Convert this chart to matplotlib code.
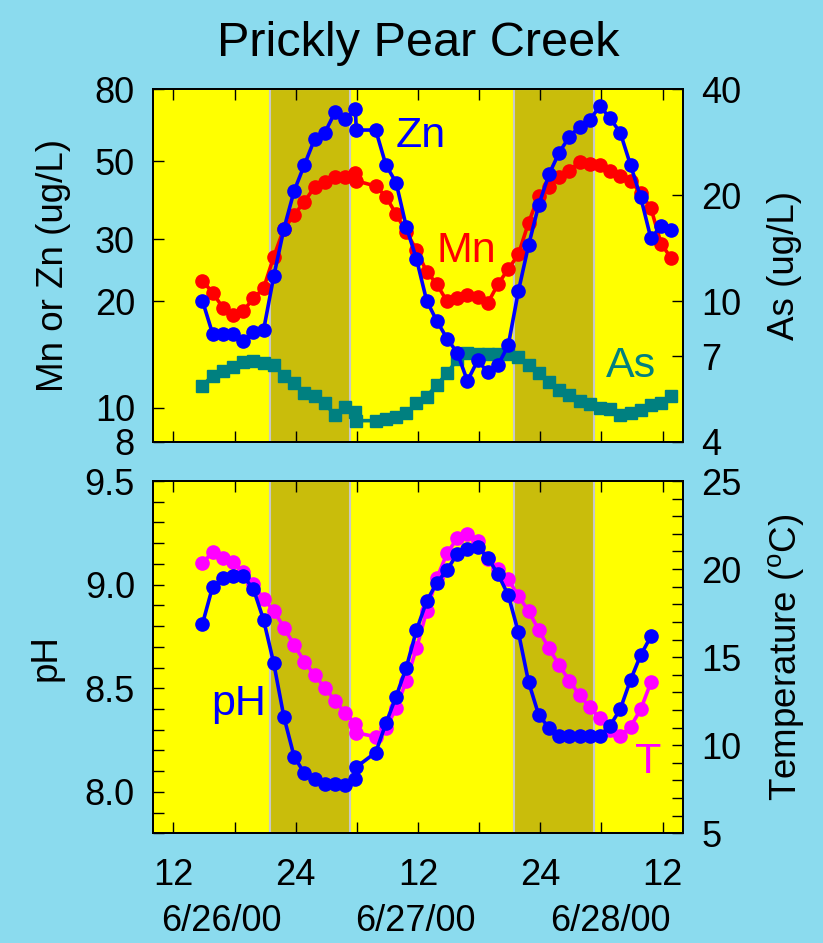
import matplotlib
matplotlib.use("Agg")
import matplotlib.pyplot as plt
from matplotlib.ticker import FixedLocator, MultipleLocator, NullLocator
import matplotlib.transforms as mtransforms

plt.rcParams["font.family"] = ["Liberation Sans", "DejaVu Sans"]
plt.rcParams["mathtext.fontset"] = "custom"
plt.rcParams["mathtext.rm"] = "Liberation Sans"

# hours since 6/26/00 00:00 (hourly samples, one doubled near 6 am on 6/27)
HOURS = [14.85, 15.85, 16.85, 17.85, 18.85, 19.85, 20.85, 21.85, 22.85, 23.85,
         24.85, 25.85, 26.85, 27.85, 28.85, 29.85, 29.95, 31.85, 32.85, 33.85,
         34.85, 35.85, 36.85, 37.85, 38.85, 39.85, 40.85, 41.85, 42.85, 43.85,
         44.85, 45.85, 46.85, 47.85, 48.85, 49.85, 50.85, 51.85, 52.85, 53.85,
         54.85, 55.85, 56.85, 57.85, 58.85, 59.85, 60.85]

ZN = [20.1, 16.2, 16.2, 16.2, 15.4, 16.4, 16.6, 23.6, 32.2, 41.2,
      48.8, 57.7, 60.2, 68.8, 65.8, 70.2, 61.3, 61.3, 48.8, 43.5,
      32.6, 26.4, 20.1, 17.6, 15.7, 14.3, 11.9, 13.6, 12.6, 13.2,
      15.0, 21.4, 28.9, 37.6, 45.9, 52.9, 58.7, 62.7, 65.5, 71.7,
      66.2, 60.2, 48.8, 39.5, 30.2, 32.8, 31.9]

MN = [22.9, 21.2, 19.2, 18.3, 18.8, 20.4, 21.8, 26.8, 32.2, 35.2,
      38.4, 42.2, 43.7, 45.2, 45.2, 46.2, 44.0, 42.5, 39.7, 35.4,
      31.5, 28.0, 24.3, 22.4, 20.0, 20.4, 20.8, 20.6, 19.8, 22.4,
      24.7, 27.2, 33.5, 39.9, 42.2, 45.2, 47.0, 49.8, 49.1, 48.8,
      47.0, 45.5, 44.0, 40.6, 36.8, 29.2, 26.5]

AS = [5.77, 6.16, 6.36, 6.50, 6.75, 6.78, 6.70, 6.60, 6.16, 5.86,
      5.51, 5.39, 5.14, 4.76, 5.03, 4.87, 4.59, 4.59, 4.63, 4.71,
      4.82, 5.14, 5.37, 5.80, 6.25, 6.85, 7.13, 7.10, 7.10, 7.10,
      7.10, 6.94, 6.60, 6.28, 5.92, 5.61, 5.43, 5.23, 5.12, 4.97,
      4.94, 4.76, 4.82, 4.92, 5.08, 5.16, 5.39]

# field measurements stop two samples earlier
PH = [8.81, 8.99, 9.03, 9.04, 9.04, 8.98, 8.83, 8.62, 8.36, 8.17,
      8.09, 8.06, 8.04, 8.04, 8.035, 8.06, 8.12, 8.19, 8.33, 8.46,
      8.60, 8.78, 8.92, 9.01, 9.07, 9.15, 9.17, 9.18, 9.13, 9.05,
      8.95, 8.77, 8.53, 8.37, 8.31, 8.27, 8.27, 8.27, 8.27, 8.27,
      8.32, 8.40, 8.54, 8.66, 8.75]

TEMP = [20.33, 20.99, 20.61, 20.38, 19.85, 19.14, 18.30, 17.64, 16.67, 15.69,
        14.74, 13.99, 13.27, 12.53, 11.85, 11.21, 10.71, 10.48, 10.96, 12.10,
        13.66, 15.50, 17.62, 19.48, 20.90, 21.75, 21.99, 21.61, 20.56, 20.00,
        19.42, 18.47, 17.62, 16.54, 15.50, 14.55, 13.66, 12.85, 12.15, 11.53,
        10.86, 10.54, 11.05, 12.04, 13.57]

NIGHTS = [(21.5, 29.3), (45.45, 53.3)]

XTICKS = [12, 18, 24, 30, 36, 42, 48, 54, 60]
XTICK_LABELS = ["12", "", "24", "", "12", "", "24", "", "12"]
DATES = ["6/26/00", "6/27/00", "6/28/00"]
DATE_HOURS = [16.7, 35.7, 54.9]

METAL_TICKS = [8, 10, 20, 30, 50, 80]
AS_TICKS = [4, 7, 10, 20, 40]

BG = "#8BDBEE"
PANEL = "#FFFF00"
NIGHT = "#C9BD0B"
FS = 26
LFS = 26.5
MS = 9.5
LW = 2.6


def make_panel(fig, rect):
    ax = fig.add_axes(rect)
    back = ax.twinx()
    ax.set_zorder(back.get_zorder() + 1)
    ax.patch.set_visible(False)
    back.patch.set_visible(True)
    back.set_facecolor(PANEL)
    for start, end in NIGHTS:
        back.axvspan(start, end, facecolor=NIGHT, edgecolor="#C8C8C8", lw=1.5, zorder=0)
    ax.set_xlim(10, 62)
    ax.xaxis.set_major_locator(FixedLocator(XTICKS))
    ax.set_xticklabels(XTICK_LABELS)
    ax.tick_params(axis="both", which="both", direction="in", length=8, width=1,
                   top=True, right=False, labelsize=FS, pad=13)
    ax.tick_params(axis="x", pad=18)
    back.tick_params(axis="y", which="both", direction="in", length=8, width=1,
                     labelsize=FS, pad=13)
    for a in (ax, back):
        for sp in a.spines.values():
            sp.set_linewidth(1.3)
    return ax, back


fig = plt.figure(figsize=(8.23, 9.43), dpi=100, facecolor=BG)

# top panel: metals
ax1, ax1r = make_panel(fig, [0.1859, 0.5316, 0.644, 0.3737])
ax1.set_yscale("log")
ax1.set_ylim(8, 80)
ax1.yaxis.set_major_locator(FixedLocator(METAL_TICKS))
ax1.yaxis.set_minor_locator(NullLocator())
ax1.set_yticklabels([str(v) for v in METAL_TICKS])
ax1.tick_params(axis="x", labelbottom=False)
ax1r.set_yscale("log")
ax1r.set_ylim(4, 40)
ax1r.yaxis.set_major_locator(FixedLocator(AS_TICKS))
ax1r.yaxis.set_minor_locator(NullLocator())
ax1r.set_yticklabels([str(v) for v in AS_TICKS])

ax1r.plot(HOURS, AS, color="#008080", marker="s", markersize=MS - 1.5, lw=LW)
ax1.plot(HOURS, MN, color="#FF0000", marker="o", markersize=MS, lw=LW)
ax1.plot(HOURS, ZN, color="#0000FF", marker="o", markersize=MS, lw=LW)

ax1.text(0.506, 0.836, "Zn", color="#0000FF", fontsize=31, ha="center", transform=ax1.transAxes)
ax1.text(0.592, 0.510, "Mn", color="#FF0000", fontsize=31, ha="center", transform=ax1.transAxes)
ax1.text(0.902, 0.184, "As", color="#008080", fontsize=31, ha="center", transform=ax1.transAxes)

ax1.set_ylabel("Mn or Zn (ug/L)", fontsize=LFS, va="center")
ax1.yaxis.set_label_coords(-0.187, 0.5)
ax1r.set_ylabel("As (ug/L)", fontsize=LFS, va="center", rotation=90)
ax1r.yaxis.set_label_coords(1.191, 0.5)
ax1.set_title("Prickly Pear Creek", fontsize=35, pad=24)

# bottom panel: pH and temperature
ax2, ax2r = make_panel(fig, [0.1859, 0.1163, 0.644, 0.3736])
ax2.set_ylim(7.8, 9.5)
ax2.yaxis.set_major_locator(FixedLocator([8.0, 8.5, 9.0, 9.5]))
ax2.yaxis.set_minor_locator(MultipleLocator(0.1))
ax2.set_yticklabels(["8.0", "8.5", "9.0", "9.5"])
ax2r.set_ylim(5, 25)
ax2r.yaxis.set_major_locator(MultipleLocator(5))
ax2r.yaxis.set_minor_locator(MultipleLocator(1))

ax2r.plot(HOURS[:len(TEMP)], TEMP, color="#FF00FF", marker="o", markersize=MS, lw=LW)
ax2.plot(HOURS[:len(PH)], PH, color="#0000FF", marker="o", markersize=MS, lw=LW)

ax2.text(0.162, 0.336, "pH", color="#0000FF", fontsize=31, ha="center", transform=ax2.transAxes)
ax2.text(0.934, 0.171, "T", color="#FF00FF", fontsize=31, ha="center", transform=ax2.transAxes)

ax2.set_ylabel("pH", fontsize=LFS, va="center")
ax2.yaxis.set_label_coords(-0.202, 0.5)
ax2r.set_ylabel(r"Temperature ($^{\rm o}$C)", fontsize=LFS, va="center", rotation=90)
ax2r.yaxis.set_label_coords(1.196, 0.5)

trans = mtransforms.blended_transform_factory(ax2.transData, ax2.transAxes)
for label, hour in zip(DATES, DATE_HOURS):
    ax2.text(hour, -0.249, label, fontsize=FS, ha="center", va="center", transform=trans)

fig.savefig("out.png", dpi=100, facecolor=BG)
